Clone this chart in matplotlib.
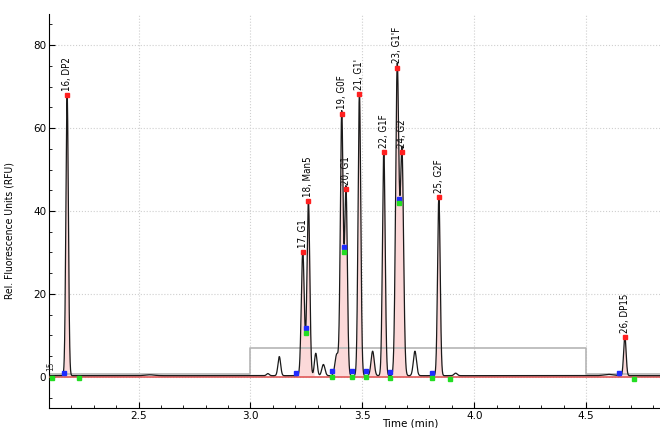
import numpy as np
import matplotlib
matplotlib.use("Agg")
import matplotlib.pyplot as plt
from matplotlib.ticker import MultipleLocator

# labelled peaks (retention time in min, height in RFU)
peak_names = ["16, DP2", "17, G1", "18, Man5", "19, G0F", "20, G1", "21, G1'",
              "22, G1F", "23, G1'F", "24, G2", "25, G2F", "26, DP15"]
peak_x = [2.181, 3.234, 3.259, 3.408, 3.427, 3.487, 3.596, 3.656, 3.677, 3.842, 4.673]
peak_h = [68.0, 30.0, 42.3, 63.5, 45.2, 68.2, 54.3, 74.6, 54.2, 43.3, 9.5]
peak_w = [0.0055, 0.0066, 0.0062, 0.0062, 0.0060, 0.0060, 0.0060, 0.0072, 0.0072, 0.0058, 0.0055]

# unlabelled small peaks
small_x = [3.078, 3.129, 3.292, 3.326, 3.386, 3.546, 3.735, 3.917, 2.55, 4.60]
small_h = [0.5, 4.6, 5.4, 2.7, 5.2, 5.9, 5.9, 0.6, 0.2, 0.3]
small_w = [0.006, 0.006, 0.006, 0.007, 0.008, 0.007, 0.007, 0.007, 0.02, 0.02]

# integration windows (shaded)
win_start = [2.165, 3.203, 3.366, 3.453, 3.518, 3.624, 3.810, 4.647]
win_end = [2.232, 3.285, 3.453, 3.518, 3.624, 3.715, 3.893, 4.713]

# peak start / end markers
blue_x = [2.165, 3.203, 3.247, 3.366, 3.418, 3.453, 3.518, 3.624, 3.665, 3.810, 4.647]
blue_y = [1.0, 0.9, 11.9, 1.4, 31.2, 1.5, 1.5, 1.3, 43.0, 1.0, 0.9]
green_x = [2.113, 2.232, 3.247, 3.366, 3.418, 3.453, 3.518, 3.624, 3.665, 3.810, 3.893, 4.713]
green_y = [-0.3, -0.3, 10.7, 0.0, 30.2, 0.0, 0.0, -0.2, 41.9, -0.3, -0.5, -0.4]

# gray threshold step line
step_x = [2.10, 3.0, 3.0, 4.5, 4.5, 4.83]
step_y = [0.8, 0.8, 7.0, 7.0, 0.8, 0.8]

label_font = ["Liberation Sans Narrow", "DejaVu Sans"]

t = np.linspace(2.09, 4.84, 6000)
signal = np.full_like(t, 0.3)
for xs, hs, ws in ((peak_x, peak_h, peak_w), (small_x, small_h, small_w)):
    for c, h, w in zip(xs, hs, ws):
        signal += h * np.exp(-0.5 * ((t - c) / w) ** 2)

fig = plt.figure(figsize=(6.6, 4.28), dpi=100)
ax = fig.add_axes([49 / 660, 20 / 428, 1 - 49 / 660, 394 / 428])

for s, e in zip(win_start, win_end):
    m = (t >= s) & (t <= e)
    ax.fill_between(t[m], 0, signal[m], color="#fcd9d9", lw=0, zorder=1)

ax.plot(step_x, step_y, color="#b5b5b5", lw=1.2, zorder=2)
ax.axhline(0, color="#e05a5a", lw=1.2, zorder=3)
ax.plot(t, signal, color="#1a1a1a", lw=0.9, zorder=4)

ax.plot(peak_x, peak_h, "s", color="#ff2020", ms=3, zorder=5)
ax.plot(blue_x, blue_y, "s", color="#1f2bff", ms=3, zorder=5)
ax.plot(green_x, green_y, "s", color="#22dd22", ms=3, zorder=5)

for name, x, h in zip(peak_names, peak_x, peak_h):
    ax.annotate(name, (x, h), xytext=(0, 3), textcoords="offset points",
                rotation=90, ha="center", va="bottom", fontsize=7,
                family=label_font, fontstretch="condensed")
ax.text(2.106, 1.5, "15", rotation=90, ha="center", va="bottom", fontsize=6,
        family=label_font, fontstretch="condensed", color="#333333")

ax.set_xlim(2.10, 4.83)
ax.set_ylim(-7.5, 87.5)
ax.xaxis.set_major_locator(MultipleLocator(0.5))
ax.xaxis.set_minor_locator(MultipleLocator(0.1))
ax.yaxis.set_major_locator(MultipleLocator(20))
ax.yaxis.set_minor_locator(MultipleLocator(5))
ax.tick_params(which="both", direction="in", labelsize=7.5, pad=2)
ax.tick_params(which="major", length=4)
ax.tick_params(which="minor", length=2.5)
ax.grid(True, which="major", color="#cfcfcf", ls=":", lw=0.8)
ax.set_axisbelow(True)
for side in ("top", "right"):
    ax.spines[side].set_visible(False)

ax.set_xlabel("Time (min)", fontsize=7.5)
ax.xaxis.set_label_coords(0.591, -0.027)
ax.set_ylabel("Rel. Fluorescence Units (RFU)", fontsize=7.5, family=label_font,
              fontstretch="condensed")
ax.yaxis.set_label_coords(-0.056, 0.45)

fig.savefig("out.png", dpi=100)
